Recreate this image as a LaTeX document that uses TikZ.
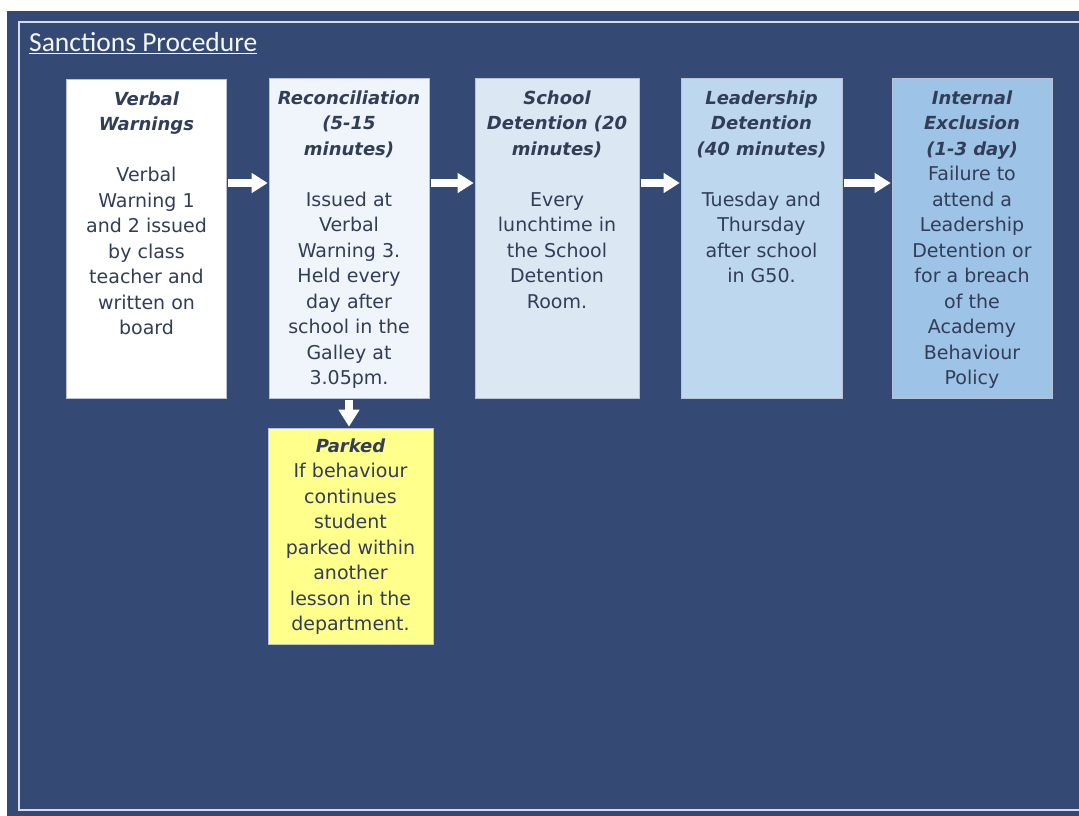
\documentclass[tikz,border=0pt]{standalone}
\usepackage{fontspec}
\setmainfont{DejaVu Sans}
\newfontfamily\titlefont{Carlito}
\usetikzlibrary{arrows.meta}
\definecolor{navy}{HTML}{344A75}
\definecolor{ink}{HTML}{323D58}
\definecolor{frameline}{HTML}{D5DCE8}
\definecolor{boxedge}{HTML}{B8C2D4}
\definecolor{fillA}{HTML}{FFFFFF}
\definecolor{fillB}{HTML}{F0F5FB}
\definecolor{fillC}{HTML}{DCE7F4}
\definecolor{fillD}{HTML}{BDD7EE}
\definecolor{fillE}{HTML}{9DC3E6}
\definecolor{fillY}{HTML}{FFFF8C}
\tikzset{
  stagebox/.style={draw=boxedge, line width=0.6pt, inner sep=0pt, minimum height=320pt},
  stagetext/.style={anchor=north, inner sep=0pt, align=center, text=ink,
    font=\fontsize{19}{25.5}\selectfont},
  blockarrow/.style={draw=white, line width=8pt, -{Triangle[length=16pt,width=19pt]},
    shorten <=1.5pt, shorten >=1pt},
}
\newcommand{\hd}[1]{{\fontsize{18}{25.5}\selectfont\bfseries\itshape #1}}
\begin{document}
\begin{tikzpicture}[x=1pt,y=-1pt]
\useasboundingbox (0,0) rectangle (1079,816);
\fill[white] (0,0) rectangle (1079,816);
\fill[navy] (7,11) rectangle (1079,816);
\draw[frameline, line width=1.6pt] (19,22) rectangle (1095,810);

\node[anchor=base west, inner sep=0pt, text=white!95!navy,
  font=\titlefont\fontsize{27.5}{30}\selectfont] (title) at (29,52) {\underline{Sanctions Procedure}};

\node[stagebox, fill=fillA, minimum width=160pt, minimum height=319pt] (b1) at (146.5,238.5) {};
\node[stagebox, fill=fillB, minimum width=160pt] (b2) at (349,238) {};
\node[stagebox, fill=fillC, minimum width=164pt] (b3) at (557,238) {};
\node[stagebox, fill=fillD, minimum width=161pt] (b4) at (761.5,238) {};
\node[stagebox, fill=fillE, minimum width=160pt] (b5) at (972,238) {};
\node[stagebox, fill=fillY, minimum width=165pt, minimum height=216pt] (b6) at (350.5,536) {};

\node[stagetext] (t1) at (146.5,87) {\strut\hd{Verbal}\\\hd{Warnings}\\\strut\\Verbal\\Warning 1\\and 2 issued\\by class\\teacher and\\written on\\board};
\node[stagetext] (t2) at (349,86) {\strut\hd{Reconciliation}\\\hd{(5-15}\\\hd{minutes)}\\\strut\\Issued at\\Verbal\\Warning 3.\\Held every\\day after\\school in the\\Galley at\\3.05pm.};
\node[stagetext] (t3) at (557,86) {\strut\hd{School}\\\hd{Detention (20}\\\hd{minutes)}\\\strut\\Every\\lunchtime in\\the School\\Detention\\Room.};
\node[stagetext] (t4) at (761.5,86) {\strut\hd{Leadership}\\\hd{Detention}\\\hd{(40 minutes)}\\\strut\\Tuesday and\\Thursday\\after school\\in G50.};
\node[stagetext] (t5) at (972,86) {\strut\hd{Internal}\\\hd{Exclusion}\\\hd{(1-3 day)}\\Failure to\\attend a\\Leadership\\Detention or\\for a breach\\of the\\Academy\\Behaviour\\Policy};
\node[stagetext] (t6) at (350.5,434) {\strut\hd{Parked}\\If behaviour\\continues\\student\\parked within\\another\\lesson in the\\department.};

\coordinate (ay) at (0,183);
\draw[blockarrow] (b1.east |- ay) -- (b2.west |- ay);
\draw[blockarrow] (b2.east |- ay) -- (b3.west |- ay);
\draw[blockarrow] (b3.east |- ay) -- (b4.west |- ay);
\draw[blockarrow] (b4.east |- ay) -- (b5.west |- ay);
\draw[blockarrow, -{Triangle[length=17pt,width=20pt]}] (b2.south) -- (b2.south |- b6.north);
\end{tikzpicture}
\end{document}
